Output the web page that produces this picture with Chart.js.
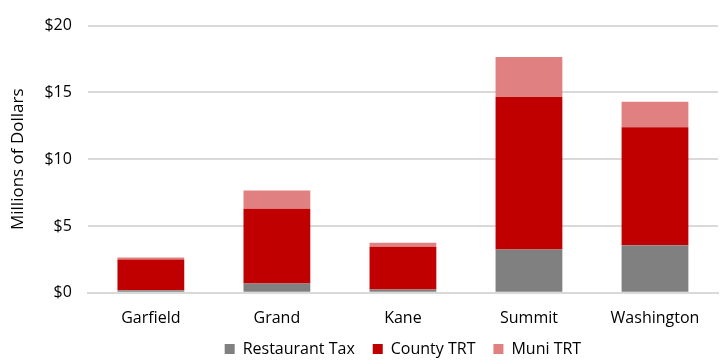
<!DOCTYPE html>
<html><head><meta charset="utf-8">
<script src="https://cdn.jsdelivr.net/npm/chart.js@4/dist/chart.umd.min.js"></script>
<style>html,body{margin:0;padding:0;background:#fff}#wrap{width:720px;height:360px}</style>
</head><body><div id="wrap"><canvas id="c" width="720" height="360"></canvas></div>
<script>
const categories = ["Garfield", "Grand", "Kane", "Summit", "Washington"];
const restaurantTax = [0.2, 0.7, 0.25, 3.25, 3.55];
const countyTRT = [2.3, 5.6, 3.2, 11.4, 8.85];
const muniTRT = [0.15, 1.35, 0.3, 3.0, 1.9];
const yTicks = [0, 5, 10, 15, 20];
const font = "'Open Sans', 'Noto Sans', sans-serif";

const centerLegend = {
  id: 'centerLegend',
  afterLayout(chart) {
    const l = chart.legend, a = chart.chartArea;
    const shift = (a.left + a.right) / 2 - (l.left + l.right) / 2;
    l.left += shift; l.right += shift;
    l.top -= 13; l.bottom -= 13;
  }
};

new Chart(document.getElementById('c'), {
  type: 'bar',
  data: {
    labels: categories,
    datasets: [
      {label: 'Restaurant Tax', data: restaurantTax, backgroundColor: '#808080'},
      {label: 'County TRT', data: countyTRT, backgroundColor: '#C00000'},
      {label: 'Muni TRT', data: muniTRT, backgroundColor: '#E08080'}
    ]
  },
  plugins: [centerLegend],
  options: {
    responsive: false,
    animation: false,
    layout: {padding: {left: 8, right: 2, top: 16, bottom: -20}},
    datasets: {bar: {categoryPercentage: 1, barPercentage: 0.53}},
    plugins: {
      legend: {
        position: 'bottom',
        labels: {font: {family: font, size: 16}, color: '#000', boxWidth: 10, boxHeight: 10, padding: 18}
      },
      tooltip: {enabled: false}
    },
    scales: {
      x: {
        stacked: true,
        grid: {display: false},
        border: {color: '#d9d9d9', width: 2},
        ticks: {font: {family: font, size: 16}, color: '#000', padding: 8}
      },
      y: {
        stacked: true,
        min: 0, max: 20,
        afterBuildTicks: (axis) => { axis.ticks = yTicks.map(v => ({value: v})); },
        grid: {color: '#d9d9d9', lineWidth: 2, drawTicks: false},
        border: {display: false},
        ticks: {font: {family: font, size: 16}, color: '#000', padding: 16, callback: v => '$' + v},
        title: {display: true, text: 'Millions of Dollars', font: {family: font, size: 17}, color: '#000', padding: {top: 0, bottom: 0}}
      }
    }
  }
});
</script></body></html>
